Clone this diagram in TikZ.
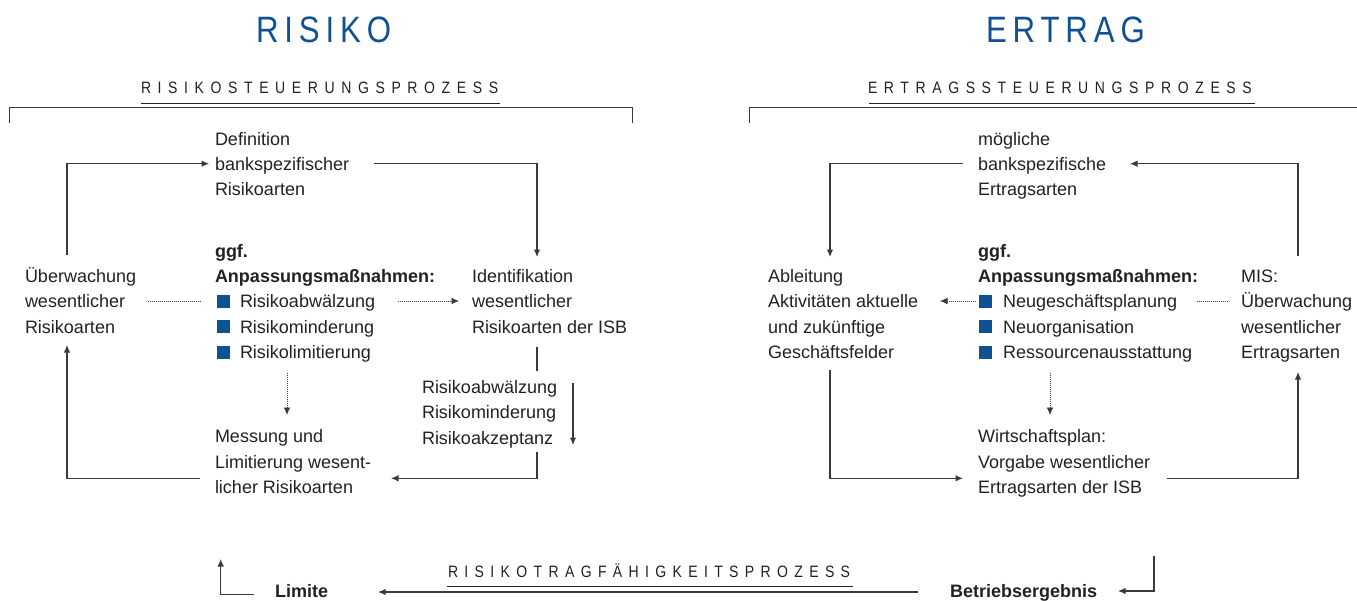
\documentclass[tikz,border=0pt]{standalone}
\usepackage{fontspec}
\setmainfont{Liberation Sans}
\newfontfamily\spacedfont[FakeStretch=0.85,LetterSpace=40]{Liberation Sans}
\newfontfamily\spacedfontB[FakeStretch=0.85,LetterSpace=38.5]{Liberation Sans}
\newfontfamily\titlefont[FakeStretch=0.85,LetterSpace=16]{Liberation Sans}
\usetikzlibrary{arrows.meta}
\definecolor{isbblue}{HTML}{105291}
\definecolor{txt}{HTML}{222222}
\definecolor{ln}{HTML}{3A3A3A}
\begin{document}
\begin{tikzpicture}[x=1pt,y=-1pt,
  every node/.style={inner sep=0pt, outer sep=0pt, text=txt},
  body/.style={font=\fontsize{18}{25.3}\selectfont, align=left, anchor=base west},
  lbl/.style={font=\fontsize{18}{25.3}\selectfont\bfseries, align=left, anchor=base west},
  title/.style={font=\titlefont\fontsize{36.7}{40}\selectfont, text=isbblue, anchor=base west},
  proc/.style={font=\spacedfont\fontsize{16.5}{20}\selectfont, anchor=base west},
  procB/.style={font=\spacedfontB\fontsize{16.5}{20}\selectfont, anchor=base west},
  conn/.style={draw=ln, line width=1.1pt},
  uline/.style={draw=txt, line width=1.2pt},
  arr/.style={conn, -{Latex[length=7.5pt,width=6.5pt]}},
  dots/.style={draw=ln, line width=0.8pt, dash pattern=on 0.8pt off 1.2pt},
  darr/.style={dots, -{Latex[length=7.5pt,width=6.5pt]}},
  sq/.style={fill=isbblue, minimum size=13pt, anchor=south west},
]
\useasboundingbox[fill=white] (0,0) rectangle (1357,600);

% titles
\node[title] (tRisiko) at (256,42.3) {RISIKO};
\node[title] (tErtrag) at (986,42.3) {ERTRAG};

% process headings
\node[proc] (pRisk) at (141,93.3) {RISIKOSTEUERUNGSPROZESS};
\node[proc] (pErtr) at (868,93.3) {ERTRAGSSTEUERUNGSPROZESS};
\node[procB] (pRTF) at (448,577) {RISIKOTRAGFÄHIGKEITSPROZESS};
\coordinate (uR1) at (141,103.3); \coordinate (uR2) at (500,103.3);
\coordinate (uE1) at (869,103.8); \coordinate (uE2) at (1255,103.8);
\coordinate (uT1) at (447,586.5); \coordinate (uT2) at (853,586.5);
\draw[uline] (uR1) -- (uR2);
\draw[uline] (uE1) -- (uE2);
\draw[uline] (uT1) -- (uT2);

% brackets
\coordinate (bL1) at (9.6,122.7); \coordinate (bL2) at (632,107.7); \coordinate (bL3) at (632,122.7);
\coordinate (bR1) at (749.6,123); \coordinate (bR2) at (1357,107.7);
\draw[conn, line width=1pt] (bL1) |- (bL2) -- (bL3);
\draw[conn, line width=1pt] (bR1) |- (bR2);

% ---------- left cycle (node positions = baseline of last line) ----------
\node[body] (def) at (215,195.9) {Definition\\bankspezifischer\\Risikoarten};
\node[body] (ueb) at (25,333.2) {Überwachung\\wesentlicher\\Risikoarten};
\node[lbl] (anpL) at (215,282.6) {ggf.\\Anpassungsmaßnahmen:};
\node[sq] (sqL1) at (216.5,307.9) {};
\node[sq] (sqL2) at (216.5,333.2) {};
\node[sq] (sqL3) at (216.5,358.5) {};
\node[body] (itemsL) at (240,358.5) {Risikoabwälzung\\Risikominderung\\Risikolimitierung};
\node[body] (ident) at (472,333.2) {Identifikation\\wesentlicher\\Risikoarten der ISB};
\node[body] (mitig) at (422,444.1) {Risikoabwälzung\\Risikominderung\\Risikoakzeptanz};
\node[body] (mess) at (215,493.3) {Messung und\\Limitierung wesent-\\licher Risikoarten};

\coordinate (uebTop) at (67,255);   \coordinate (defIn) at (209,163.7);
\coordinate (defOut) at (374,163.7); \coordinate (identIn) at (537,257);
\coordinate (uebDot) at (148,301);  \coordinate (itemsLDot) at (201,301);
\coordinate (itemsLOut) at (398,301); \coordinate (identDotIn) at (459,301);
\coordinate (identBot) at (537,347); \coordinate (mitigTop) at (537,371);
\coordinate (mitigA1) at (573,383); \coordinate (mitigA2) at (573,445);
\coordinate (mitigBot) at (537,452); \coordinate (messIn) at (391,478.3);
\coordinate (messOut) at (200,478.3); \coordinate (uebIn) at (67,345);
\coordinate (itemsLBot) at (287,373); \coordinate (messDotIn) at (287,415);

\draw[arr] (uebTop) |- (defIn);
\draw[arr] (defOut) -| (identIn);
\draw[dots] (uebDot) -- (itemsLDot);
\draw[darr] (itemsLOut) -- (identDotIn);
\draw[conn] (identBot) -- (mitigTop);
\draw[arr] (mitigA1) -- (mitigA2);
\draw[arr] (mitigBot) |- (messIn);
\draw[arr] (messOut) -| (uebIn);
\draw[darr] (itemsLBot) -- (messDotIn);

% ---------- right cycle ----------
\node[body] (moeg) at (978,195.9) {mögliche\\bankspezifische\\Ertragsarten};
\node[body] (ableit) at (768,358.5) {Ableitung\\Aktivitäten aktuelle\\und zukünftige\\Geschäftsfelder};
\node[lbl] (anpR) at (978,282.6) {ggf.\\Anpassungsmaßnahmen:};
\node[sq] (sqR1) at (979,307.9) {};
\node[sq] (sqR2) at (979,333.2) {};
\node[sq] (sqR3) at (979,358.5) {};
\node[body] (itemsR) at (1003,358.5) {Neugeschäftsplanung\\Neuorganisation\\Ressourcenausstattung};
\node[body] (mis) at (1241,358.5) {MIS:\\Überwachung\\wesentlicher\\Ertragsarten};
\node[body] (wirt) at (978,493.3) {Wirtschaftsplan:\\Vorgabe wesentlicher\\Ertragsarten der ISB};

\coordinate (moegOut) at (963,163.7); \coordinate (ableitIn) at (830,257);
\coordinate (misTop) at (1298,256);  \coordinate (moegIn) at (1130,163.7);
\coordinate (itemsROut) at (976,301); \coordinate (ableitDotIn) at (940,301);
\coordinate (itemsRDot) at (1197,301); \coordinate (misDot) at (1229,301);
\coordinate (ableitBot) at (830,370); \coordinate (wirtIn) at (963,478.3);
\coordinate (wirtOut) at (1167,478.3); \coordinate (misIn) at (1298,372);
\coordinate (itemsRBot) at (1050,373); \coordinate (wirtDotIn) at (1050,415);

\draw[arr] (moegOut) -| (ableitIn);
\draw[arr] (misTop) |- (moegIn);
\draw[darr] (itemsROut) -- (ableitDotIn);
\draw[dots] (itemsRDot) -- (misDot);
\draw[arr] (ableitBot) |- (wirtIn);
\draw[arr] (wirtOut) -| (misIn);
\draw[darr] (itemsRBot) -- (wirtDotIn);

% ---------- bottom ----------
\node[lbl] (limite) at (275,597) {Limite};
\node[lbl] (betr) at (950,597) {Betriebsergebnis};
\coordinate (limStart) at (254,594.3); \coordinate (limTip) at (220.7,559);
\coordinate (rtfStart) at (918,592); \coordinate (rtfTip) at (378,592);
\coordinate (betrStart) at (1154,556); \coordinate (betrTip) at (1118,591);
\draw[arr] (limStart) -| (limTip);
\draw[arr] (rtfStart) -- (rtfTip);
\draw[arr] (betrStart) |- (betrTip);
\end{tikzpicture}
\end{document}
